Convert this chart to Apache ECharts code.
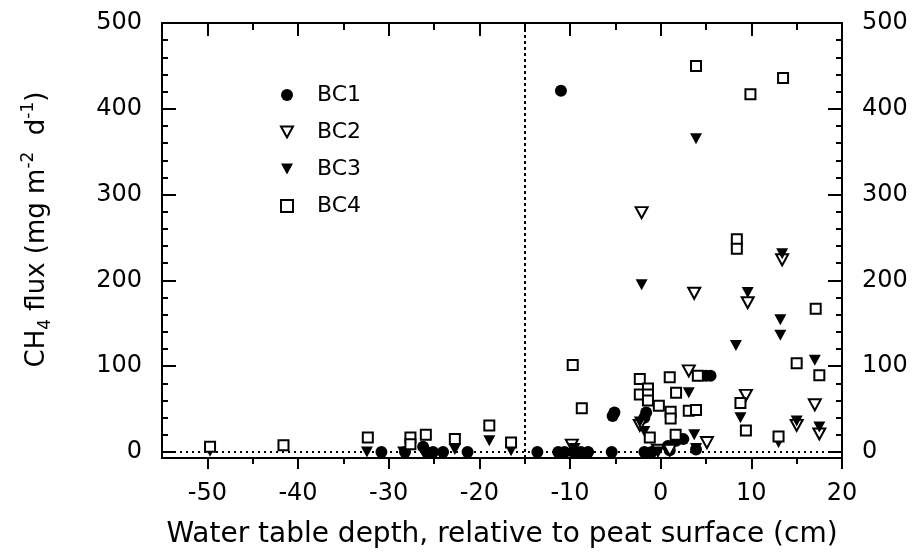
<!DOCTYPE html>
<html>
<head>
<meta charset="utf-8">
<script src="https://cdn.jsdelivr.net/npm/echarts@6/dist/echarts.min.js"></script>
<style>
html,body{margin:0;padding:0;background:#fff;}
#chart{width:919px;height:554px;}
</style>
</head>
<body>
<div id="chart"></div>
<script>
// ---- data (water table depth cm, CH4 flux mg m-2 d-1) ----
const seriesNames = ['BC1', 'BC2', 'BC3', 'BC4'];
const bc1 = [[-11.0,421],[-30.8,0],[-28.2,0],[-26.2,6],[-25.8,0],[-25.1,0],[-24.0,0],[-21.3,0],
  [-13.6,0],[-11.3,0],[-10.6,0],[-9.6,0],[-8.8,0],[-8.0,0],[-5.1,46],[-5.3,42],[-5.4,0],
  [-1.6,46],[-1.8,40],[-1.8,0],[-1.0,0],[0.8,7],[1.7,13],[2.5,15],[1.0,2],[5.0,89],[5.5,89],[3.9,3]];
const bc2 = [[-2.1,279],[3.7,185],[9.6,174],[13.4,224],[3.1,94.5],[-2.3,31],[-0.3,2],[1.0,2],
  [5.1,11],[9.4,66],[15.0,31],[17.0,55],[17.5,21],[-9.8,8]];
const bc3 = [[-49.7,1],[-32.4,0],[-28.4,0],[-22.7,3],[-18.9,13],[-16.5,1.5],[-9.5,4],[-2.1,195],
  [3.9,365],[-2.3,35],[-1.8,24],[3.1,69],[3.7,20],[3.9,4],[8.3,124],[8.8,40],[13.2,154],[13.2,136],
  [13.0,11],[15.0,36],[17.0,107],[17.5,29],[9.6,186],[13.4,231],[-0.3,0]];
const bc4 = [[-49.7,6],[-41.6,8],[-32.3,17],[-27.6,17],[-27.6,9],[-25.9,20],[-22.7,15],[-18.9,31],
  [-16.5,11],[-9.7,101.5],[-8.7,51],[-2.3,85],[-2.3,67],[-1.4,74],[-1.4,67],[-1.4,60],[-1.2,17],
  [-0.2,54],[1.0,87],[1.7,69],[1.1,47],[1.1,39],[1.65,20],[3.1,48],[3.9,49],[4.1,89],[8.8,57],
  [9.4,25],[13.0,18],[15.0,103.5],[17.1,167],[17.5,89.5],[3.9,450],[13.5,436],[9.9,417],[8.4,248],[8.4,237]];
const xMajor = [-50, -40, -30, -20, -10, 0, 10, 20];
const xMinor = [-45, -35, -25, -15, -5, 5, 15];
const yMajor = [0, 100, 200, 300, 400, 500];
const yMinor = [20,40,60,80,120,140,160,180,220,240,260,280,320,340,360,380,420,440,460,480];
const refLineX = -15;
const refLineY = 0;

const FONT = 'DejaVu Sans';
const BLACK = '#000';
const DOWN_TRI = 'path://M0,0 L10,0 L5,9 Z';

function xAx(pos, ticks, len, inside, labels, extra) {
  return Object.assign({
    type: 'value', position: pos, min: -55, max: 20,
    axisLine: {show: true, onZero: false, lineStyle: {color: BLACK, width: 2}},
    axisTick: {show: true, inside: inside, length: len, customValues: ticks, lineStyle: {color: BLACK, width: 2}},
    axisLabel: labels ? {show: true, customValues: ticks, fontSize: 24, margin: 24, color: BLACK, fontFamily: FONT} : {show: false},
    splitLine: {show: false}
  }, extra || {});
}
function yAx(pos, ticks, len, labels, extra) {
  return Object.assign({
    type: 'value', position: pos, min: -7, max: 500,
    axisLine: {show: true, onZero: false, lineStyle: {color: BLACK, width: 2}},
    axisTick: {show: true, inside: true, length: len, customValues: ticks, lineStyle: {color: BLACK, width: 2}},
    axisLabel: labels ? {show: true, customValues: ticks, fontSize: 24, margin: 20, color: BLACK, fontFamily: FONT} : {show: false},
    splitLine: {show: false}
  }, extra || {});
}

const chart = echarts.init(document.getElementById('chart'), null, {renderer: 'canvas'});
const option = {
  animation: false,
  backgroundColor: '#fff',
  grid: {left: 162, right: 77, top: 23, bottom: 95, containLabel: false},
  legend: {
    orient: 'vertical', left: 275, top: 79,
    itemWidth: 12, itemHeight: 12, itemGap: 15,
    textStyle: {fontSize: 22, fontFamily: FONT, color: BLACK, padding: [0, 0, 0, 19]},
    data: [
      {name: 'BC1', icon: 'circle'},
      {name: 'BC2', icon: DOWN_TRI},
      {name: 'BC3', icon: DOWN_TRI},
      {name: 'BC4', icon: 'rect'}
    ]
  },
  xAxis: [
    xAx('bottom', xMajor, 11, false, true, {
      name: 'Water table depth, relative to peat surface (cm)', nameLocation: 'middle', nameGap: 63,
      nameTextStyle: {fontSize: 28, fontFamily: FONT, color: BLACK}
    }),
    xAx('bottom', xMinor, 6, false, false),
    xAx('top', xMajor, 13, true, false),
    xAx('top', xMinor, 7, true, false)
  ],
  yAxis: [
    yAx('left', yMajor, 14, true, {
      name: '{a|CH}{s|4}{a| flux (mg m}{p|-2}{a|  d}{p|-1}{a|)}', nameLocation: 'middle', nameGap: 108,
      nameTextStyle: {
        fontSize: 26, fontFamily: FONT, color: BLACK, padding: [0, 0, 0, 22],
        rich: {
          a: {fontSize: 26, fontFamily: FONT, color: BLACK, lineHeight: 34},
          s: {fontSize: 17, fontFamily: FONT, color: BLACK, lineHeight: 17, verticalAlign: 'bottom'},
          p: {fontSize: 17, fontFamily: FONT, color: BLACK, lineHeight: 17, verticalAlign: 'top'}
        }
      }
    }),
    yAx('left', yMinor, 6, false),
    yAx('right', yMajor, 14, true),
    yAx('right', yMinor, 6, false)
  ],
  series: [
    {
      name: 'BC1', type: 'scatter', data: bc1, symbol: 'circle', symbolSize: 12,
      itemStyle: {color: BLACK, opacity: 1}, z: 5,
      markLine: {
        silent: true, symbol: 'none', animation: false, z: 1,
        label: {show: false},
        data: [
          {xAxis: refLineX, lineStyle: {type: [3, 3], color: BLACK, width: 2, opacity: 1}},
          {yAxis: refLineY, lineStyle: {type: [2, 4], color: BLACK, width: 2, opacity: 1}}
        ]
      }
    },
    {
      name: 'BC2', type: 'scatter', data: bc2, symbol: DOWN_TRI, symbolSize: [12, 11],
      itemStyle: {color: '#fff', borderColor: BLACK, borderWidth: 2, opacity: 1}, z: 6
    },
    {
      name: 'BC3', type: 'scatter', data: bc3, symbol: DOWN_TRI, symbolSize: [12, 11],
      itemStyle: {color: BLACK, opacity: 1}, z: 6
    },
    {
      name: 'BC4', type: 'scatter', data: bc4, symbol: 'rect', symbolSize: 10,
      itemStyle: {color: '#fff', borderColor: BLACK, borderWidth: 2, opacity: 1}, z: 7
    }
  ]
};
chart.setOption(option);
</script>
</body>
</html>
